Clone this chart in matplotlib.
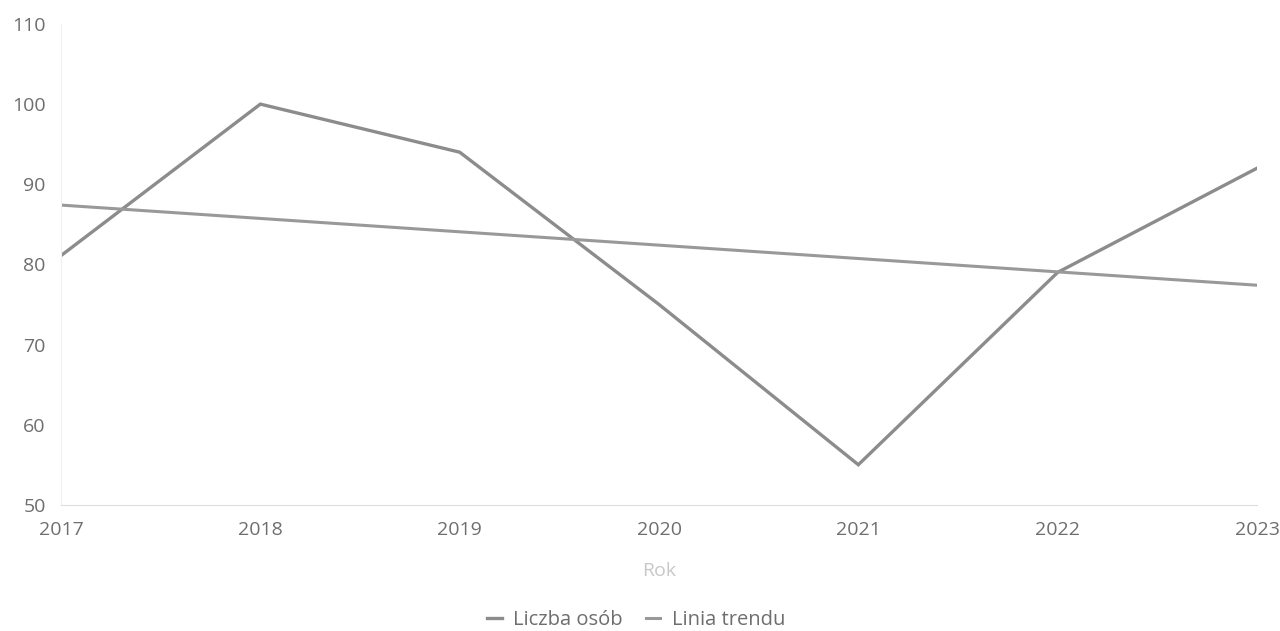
import matplotlib
matplotlib.use("Agg")
import matplotlib.pyplot as plt

#data
years = [2017, 2018, 2019, 2020, 2021, 2022, 2023]
liczba_osob = [81.1, 100.0, 94.0, 75.0, 55.0, 79.0, 92.0]
trend_years = [2017, 2023]
trend_values = [87.4, 77.4]
y_ticks = [50, 60, 70, 80, 90, 100, 110]

plt.rcParams['font.family'] = ['Open Sans', 'DejaVu Sans']

fig = plt.figure(figsize=(12.8, 6.31), dpi=100)
ax = fig.add_axes([0.0477, 0.2, 0.9343, 0.762])

ax.plot(years, liczba_osob, color="#8c8c8c", linewidth=2.4, label="Liczba osób", solid_joinstyle="miter")
ax.plot(trend_years, trend_values, color="#999999", linewidth=2.2, label="Linia trendu")

ax.set_xlim(2017, 2023)
ax.set_ylim(50, 110)
ax.set_xticks(years)
ax.set_yticks(y_ticks)
ax.tick_params(length=0, labelsize=14, labelcolor="#6e6e6e")
ax.tick_params(axis="y", pad=11)
ax.tick_params(axis="x", pad=12)

for side in ["top", "right"]:
    ax.spines[side].set_visible(False)
ax.spines["left"].set_color("#f0f0f0")
ax.spines["bottom"].set_color("#dddddd")

ax.set_xlabel("Rok", fontsize=14, color="#c8c8c8", labelpad=16)

fig.legend(loc="lower center", bbox_to_anchor=(0.497, -0.027), ncol=2, frameon=False,
           handlelength=0.7, handletextpad=0.55, columnspacing=1.2,
           fontsize=14.5, labelcolor="#6e6e6e")

plt.savefig("out.png", dpi=100)
